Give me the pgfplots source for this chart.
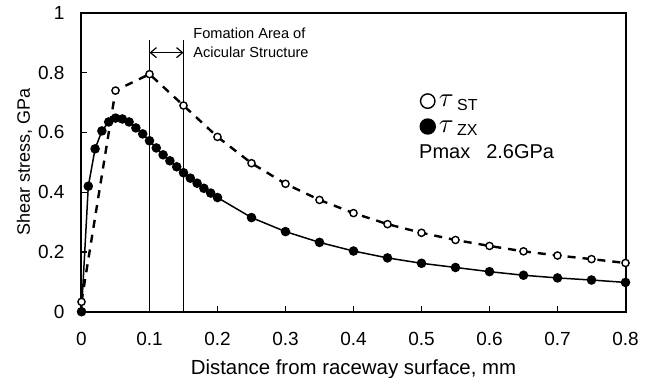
\documentclass[border=0pt]{standalone}
\usepackage{pgfplots}
\pgfplotsset{compat=1.18}
\usepackage{fontspec}
\setmainfont{Liberation Sans}
\usetikzlibrary{arrows.meta}
\begin{document}
\begin{tikzpicture}
\begin{axis}[
  name=ax,
  scale only axis,
  width=272pt, height=149.4pt,
  xmin=0, xmax=0.8, ymin=0, ymax=1,
  xtick={0,0.1,...,0.8},
  ytick={0,0.2,...,1},
  xticklabels={0,0.1,0.2,0.3,0.4,0.5,0.6,0.7,0.8},
  yticklabels={0,0.2,0.4,0.6,0.8,1},
  tick align=inside,
  tick pos=left,
  major tick length=3pt,
  axis line style={line width=1pt},
  tick style={line width=0.6pt, black},
  ticklabel style={font=\fontsize{9.5}{11}\selectfont},
  xticklabel style={yshift=-6.5pt},
  yticklabel style={xshift=-5pt},
  xlabel={Distance from raceway surface, mm},
  ylabel={Shear stress, GPa},
  xlabel style={font=\fontsize{10.2}{12}\selectfont, at={(axis description cs:0.5,0)}, anchor=center, yshift=-29pt},
  ylabel style={font=\fontsize{9}{12}\selectfont, at={(axis description cs:0,0.5)}, anchor=center, yshift=28.5pt},
  clip=false,
  legend style={at={(axis cs:0.498,0.74)}, anchor=north west, draw=none, fill=none,
    font=\fontsize{10}{12.5}\selectfont, inner sep=0pt, row sep=2.6pt,
    /tikz/every even column/.append style={column sep=1pt}},
  legend cell align=left,
  legend image code/.code={\draw[#1, solid, mark size=3.6pt, line width=1pt] plot[only marks] coordinates {(0.13cm,0cm)};},
]
% vertical lines
\addplot[black, line width=0.6pt, forget plot] coordinates {(0.1,0) (0.1,0.91)};
\addplot[black, line width=0.6pt, forget plot] coordinates {(0.15,0) (0.15,0.91)};
% tau ST
\addplot[black, line width=1.2pt, dash pattern=on 4pt off 3.5pt,
  mark=*, mark size=1.8pt, mark options={solid, fill=white, line width=0.7pt}]
  coordinates {
  (0,0.033) (0.05,0.74) (0.1,0.795) (0.15,0.69) (0.2,0.585) (0.25,0.497)
  (0.3,0.428) (0.35,0.374) (0.4,0.33) (0.45,0.293) (0.5,0.264) (0.55,0.24)
  (0.6,0.22) (0.65,0.202) (0.7,0.188) (0.75,0.176) (0.8,0.163)
  };
\addlegendentry{\raisebox{-1.2pt}{\scalebox{1.35}{$\tau$}}\,\raisebox{-3pt}{\fontsize{8}{8}\selectfont ST}}
% tau ZX
\addplot[black, line width=0.75pt, mark=*, mark size=2pt, mark options={fill=black}]
  coordinates {
  (0,0) (0.01,0.42) (0.02,0.545) (0.03,0.605) (0.04,0.635) (0.05,0.648)
  (0.06,0.645) (0.07,0.635) (0.08,0.615) (0.09,0.595) (0.1,0.572)
  (0.11,0.548) (0.12,0.525) (0.13,0.505) (0.14,0.485) (0.15,0.465)
  (0.16,0.447) (0.17,0.43) (0.18,0.413) (0.19,0.397) (0.2,0.382)
  (0.25,0.315) (0.3,0.268) (0.35,0.232) (0.4,0.203) (0.45,0.18)
  (0.5,0.162) (0.55,0.148) (0.6,0.134) (0.65,0.122) (0.7,0.113)
  (0.75,0.106) (0.8,0.098)
  };
\addlegendentry{\raisebox{-1.2pt}{\scalebox{1.35}{$\tau$}}\,\raisebox{-3pt}{\fontsize{8}{8}\selectfont ZX}}
% annotation
\draw[{Straight Barb[length=3pt,width=5pt]}-{Straight Barb[length=3pt,width=5pt]}, line width=0.6pt]
  (axis cs:0.1,0.867) -- (axis cs:0.15,0.867);
\node[anchor=west, align=left, font=\fontsize{7.3}{9.2}\selectfont, inner sep=0pt]
  at (axis cs:0.164,0.90) {Fomation Area of\\Acicular Structure};
\node[anchor=west, inner sep=0pt, font=\fontsize{10}{12}\selectfont]
  at (axis cs:0.496,0.535) {Pmax\hspace{0.8em}2.6GPa};
\end{axis}
\pgfresetboundingbox
\path[use as bounding box] (ax.south west) ++(-40.75pt,-33.15pt) rectangle ++(326pt,189pt);
\end{tikzpicture}
\end{document}
